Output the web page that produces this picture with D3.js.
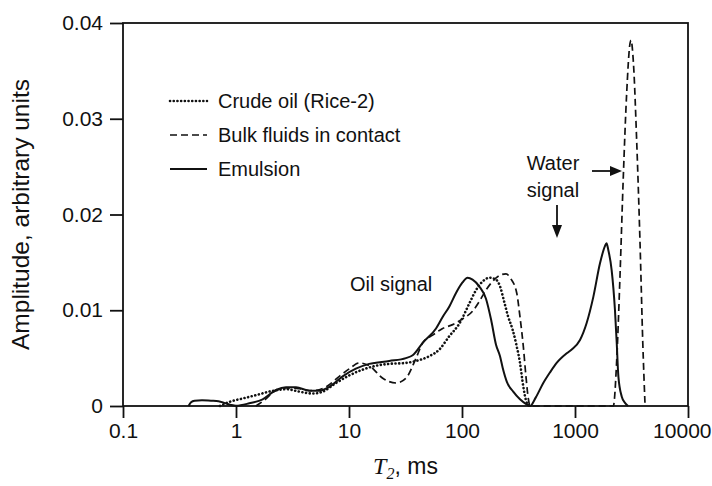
<!DOCTYPE html>
<html><head><meta charset="utf-8">
<script src="https://cdn.jsdelivr.net/npm/d3@7"></script>
<style>
body{margin:0;background:#fff}
svg{display:block}
text{font-family:"Liberation Sans",Arial,sans-serif;fill:#111}
</style>
</head><body>
<svg id="chart" width="712" height="486"></svg>
<script>
const xTicks = [0.1, 1, 10, 100, 1000, 10000];
const xTickLabels = ["0.1", "1", "10", "100", "1000", "10000"];
const yTicks = [0, 0.01, 0.02, 0.03, 0.04];
const yTickLabels = ["0", "0.01", "0.02", "0.03", "0.04"];
const seriesNames = ["Crude oil (Rice-2)", "Bulk fluids in contact", "Emulsion"];

const crudeT2 = [0.72, 0.885, 1.16, 1.52, 2.14, 2.81, 3.63, 4.77, 5.85, 7.67, 10.1, 13.2, 17.3, 22.7, 31.9, 41.9, 51.4, 63, 77.3, 94.7, 116, 133, 152, 175, 200, 217, 235, 255, 280, 300, 326, 349, 370, 395];
const crudeAmp = [0, 0.00045, 0.0008, 0.00115, 0.0016, 0.00175, 0.0015, 0.0013, 0.0015, 0.0024, 0.0032, 0.0038, 0.0042, 0.0044, 0.0045, 0.0048, 0.0052, 0.0059, 0.0073, 0.0086, 0.0107, 0.0121, 0.0130, 0.0134, 0.0132, 0.0125, 0.0110, 0.0094, 0.0080, 0.0066, 0.0045, 0.0020, 0.0005, 0];

const bulkT2 = [1.5, 1.78, 2.18, 2.77, 3.63, 4.77, 6.26, 8.21, 10.1, 12.3, 15.1, 19.9, 26.1, 31.9, 39.2, 44.9, 55, 67.4, 82.7, 101, 124, 142, 163, 186, 221, 245, 270, 305, 326, 349, 368, 386, 400, 2183, 2340, 2500, 2677, 2867, 3070, 3130, 3290, 3519, 3763, 3980, 4170];
const bulkAmp = [0, 0.0006, 0.0015, 0.0019, 0.0018, 0.0016, 0.0020, 0.0031, 0.0039, 0.0045, 0.0042, 0.0029, 0.0024, 0.0029, 0.0050, 0.0066, 0.0074, 0.0081, 0.0085, 0.0091, 0.0099, 0.0109, 0.0121, 0.0130, 0.0137, 0.0138, 0.0133, 0.0118, 0.0093, 0.0062, 0.0031, 0.0008, 0, 0, 0.0048, 0.0135, 0.0240, 0.0327, 0.0379, 0.0382, 0.0358, 0.0275, 0.0170, 0.0066, 0];

const emulsionT2 = [0.38, 0.40, 0.43, 0.5, 0.6, 0.7, 0.8, 0.9, 1.0, 1.31, 1.72, 2.26, 2.77, 3.40, 4.46, 5.46, 6.70, 8.79, 11.5, 15.1, 22.7, 31.9, 36.6, 44.9, 58.9, 67.4, 77.3, 88.5, 101, 112, 124, 142, 163, 181, 200, 217, 229, 250, 284, 326, 370, 400, 450, 524, 600, 688, 844, 935, 1107, 1270, 1453, 1664, 1841, 1900, 1971, 2110, 2258, 2340, 2420, 2590, 2780, 2950];
const emulsionAmp = [0, 0.0004, 0.00055, 0.0006, 0.00055, 0.0005, 0.0003, 0.00012, 0.00003, 0.00028, 0.0007, 0.00167, 0.00195, 0.00195, 0.0016, 0.0016, 0.0020, 0.0031, 0.0039, 0.0044, 0.0047, 0.0050, 0.0053, 0.0066, 0.0081, 0.0093, 0.0104, 0.0118, 0.0129, 0.0134, 0.0132, 0.0125, 0.0112, 0.0090, 0.0064, 0.0052, 0.0040, 0.0025, 0.0015, 0.0007, 0.0002, 0, 0.0009, 0.0024, 0.0035, 0.0045, 0.0055, 0.0059, 0.0069, 0.0087, 0.0114, 0.0149, 0.0167, 0.0170, 0.0163, 0.0142, 0.0100, 0.0066, 0.0031, 0.0010, 0.0003, 0];

const svg = d3.select("#chart");
const L = 123, R = 688, T = 23, B = 406;
const x = d3.scaleLog().domain([0.1, 10000]).range([L, R]);
const y = d3.scaleLinear().domain([0, 0.04]).range([B, T]);

// axes
const xAxis = svg.append("g").attr("transform", `translate(0,${B})`)
  .call(d3.axisBottom(x).tickValues(xTicks).tickFormat((d, i) => xTickLabels[i]).tickSize(12).tickSizeOuter(0).tickPadding(5));
const yAxis = svg.append("g").attr("transform", `translate(${L},0)`)
  .call(d3.axisLeft(y).tickValues(yTicks).tickFormat((d, i) => yTickLabels[i]).tickSize(13).tickSizeOuter(0).tickPadding(7));
[xAxis, yAxis].forEach(g => {
  g.select(".domain").remove();
  g.selectAll("line").attr("stroke", "#111").attr("stroke-width", 1.8);
  g.selectAll("text").attr("font-size", 21).attr("fill", "#111")
    .style("font-family", '"Liberation Sans",Arial,sans-serif');
});
// keep the last x label inside the picture
xAxis.selectAll(".tick text").filter(d => d === 10000).attr("text-anchor", "end").attr("dx", 711 - R);

// frame
svg.append("rect").attr("x", L).attr("y", T).attr("width", R - L).attr("height", B - T)
  .attr("fill", "none").attr("stroke", "#111").attr("stroke-width", 1.8);

// curves
const line = d3.line().x(d => x(d[0])).y(d => y(d[1])).curve(d3.curveMonotoneX);
const styles = [
  {dash: "0.1,3.6", w: 2.6, cap: "round"},
  {dash: "7,4", w: 1.7, cap: "butt"},
  {dash: null, w: 2, cap: "butt"}
];
const data = [
  d3.zip(crudeT2, crudeAmp),
  d3.zip(bulkT2, bulkAmp),
  d3.zip(emulsionT2, emulsionAmp)
];
data.forEach((d, i) => {
  svg.append("path").attr("d", line(d)).attr("fill", "none").attr("stroke", "#111")
    .attr("stroke-width", styles[i].w).attr("stroke-linecap", styles[i].cap)
    .attr("stroke-dasharray", styles[i].dash);
});

// legend
const legY = [101, 135, 169];
seriesNames.forEach((n, i) => {
  svg.append("line").attr("x1", 170).attr("x2", 207).attr("y1", legY[i]).attr("y2", legY[i])
    .attr("stroke", "#111").attr("stroke-width", styles[i].w).attr("stroke-linecap", styles[i].cap)
    .attr("stroke-dasharray", styles[i].dash);
  svg.append("text").attr("x", 218).attr("y", legY[i] + 7).attr("font-size", 20).text(n);
});

// annotations
svg.append("text").attr("x", 350).attr("y", 291).attr("font-size", 20).text("Oil signal");
svg.append("text").attr("x", 553).attr("y", 170).attr("font-size", 20).attr("text-anchor", "middle").text("Water");
svg.append("text").attr("x", 553).attr("y", 197).attr("font-size", 20).attr("text-anchor", "middle").text("signal");
// arrows
svg.append("line").attr("x1", 592).attr("x2", 612).attr("y1", 171).attr("y2", 171).attr("stroke", "#111").attr("stroke-width", 1.8);
svg.append("path").attr("d", "M622,171 L610,166 L610,176 Z").attr("fill", "#111");
svg.append("line").attr("x1", 557).attr("x2", 557).attr("y1", 205).attr("y2", 227).attr("stroke", "#111").attr("stroke-width", 1.8);
svg.append("path").attr("d", "M557,238 L552,225 L562,225 Z").attr("fill", "#111");

// axis titles
svg.append("text").attr("transform", `translate(29,${(T + B) / 2}) rotate(-90)`)
  .attr("text-anchor", "middle").attr("font-size", 24.5).text("Amplitude, arbitrary units");
const xt = svg.append("text").attr("x", (L + R) / 2).attr("y", 474).attr("text-anchor", "middle").attr("font-size", 23);
xt.append("tspan").style("font-family", '"Liberation Serif","Times New Roman",serif').style("font-style", "italic").attr("font-size", 24).text("T");
xt.append("tspan").style("font-family", '"Liberation Serif","Times New Roman",serif').style("font-style", "italic").attr("font-size", 16).attr("dy", 5).text("2");
xt.append("tspan").attr("dy", -5).text(", ms");
</script>
</body></html>
